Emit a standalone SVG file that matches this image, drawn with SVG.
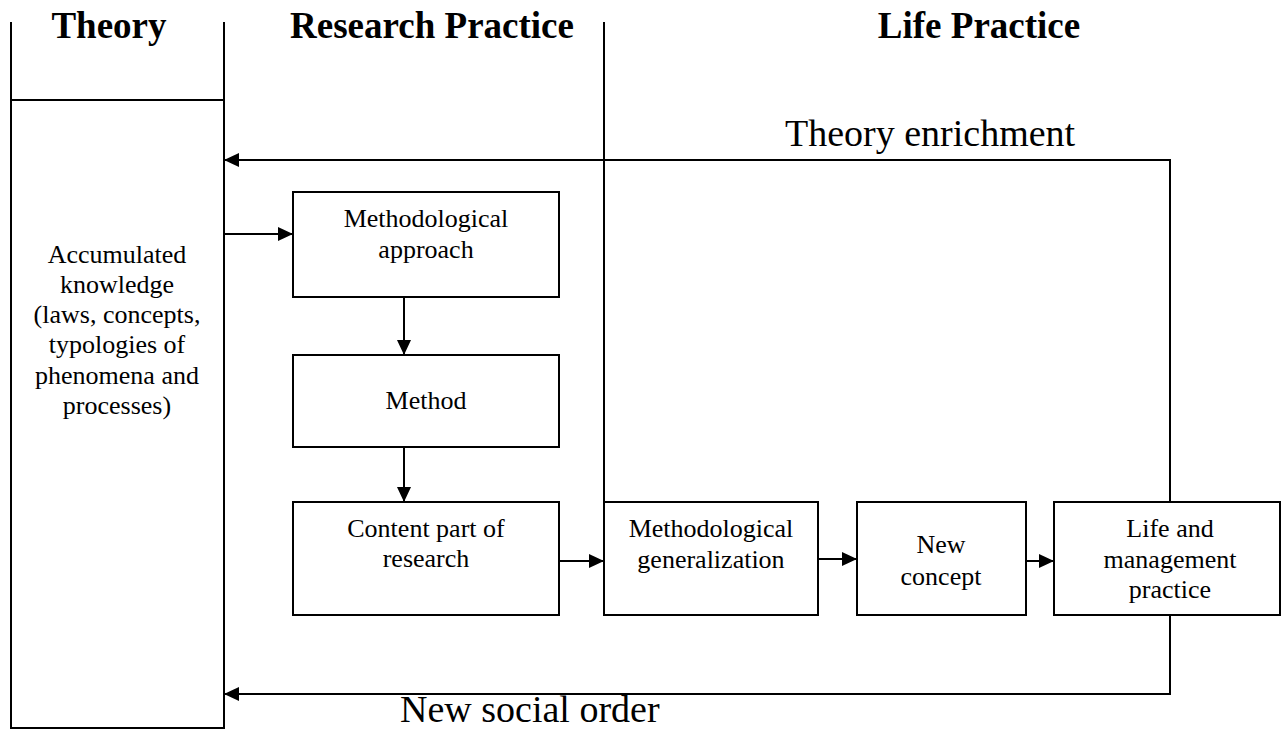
<svg xmlns="http://www.w3.org/2000/svg" width="1281" height="729" viewBox="0 0 1281 729">
<defs>
<style>
.ln{stroke:#000;stroke-width:2;fill:none}
.box{stroke:#000;stroke-width:2;fill:#fff}
.hd{font-family:"Liberation Serif","Times New Roman",serif;font-weight:bold;font-size:37px;fill:#000;text-anchor:middle}
.lb{font-family:"Liberation Serif","Times New Roman",serif;font-size:38px;fill:#000}
.t{font-family:"Liberation Serif","Times New Roman",serif;font-size:26px;fill:#000;text-anchor:middle}
</style>
<marker id="ah" viewBox="0 0 15 14" refX="15" refY="7" markerWidth="15" markerHeight="14" markerUnits="userSpaceOnUse" orient="auto">
<path d="M0,0 L15,7 L0,14 Z" fill="#000"/>
</marker>
</defs>
<rect width="1281" height="729" fill="#fff"/>
<g id="columns">
<line class="ln" x1="11" y1="22" x2="11" y2="728"/>
<line class="ln" x1="224" y1="22" x2="224" y2="728"/>
<line class="ln" x1="10" y1="728" x2="225" y2="728"/>
<line class="ln" x1="11" y1="100" x2="224" y2="100"/>
<line class="ln" x1="604" y1="22" x2="604" y2="502"/>
<text class="hd" x="109" y="38">Theory</text>
<text class="hd" x="432" y="38">Research Practice</text>
<text class="hd" x="979" y="38">Life Practice</text>
</g>
<g id="accumulated">
<text class="t" x="117" y="263">Accumulated</text>
<text class="t" x="117" y="293">knowledge</text>
<text class="t" x="117" y="323">(laws, concepts,</text>
<text class="t" x="117" y="353">typologies of</text>
<text class="t" x="117" y="384">phenomena and</text>
<text class="t" x="117" y="414">processes)</text>
</g>
<g id="connectors">
<path class="ln" d="M1170,502 V160 H224" marker-end="url(#ah)"/>
<path class="ln" d="M1170,615 V694 H224" marker-end="url(#ah)"/>
<path class="ln" d="M224,234 H293" marker-end="url(#ah)"/>
<path class="ln" d="M404,297 V355" marker-end="url(#ah)"/>
<path class="ln" d="M404,447 V502" marker-end="url(#ah)"/>
<path class="ln" d="M559,561 H604" marker-end="url(#ah)"/>
<path class="ln" d="M818,559 H857" marker-end="url(#ah)"/>
<path class="ln" d="M1026,561 H1054" marker-end="url(#ah)"/>
<text class="lb" x="785" y="146">Theory enrichment</text>
<text class="lb" x="400" y="722">New social order</text>
</g>
<g id="approach">
<rect class="box" x="293" y="192" width="266" height="105"/>
<text class="t" x="426" y="227">Methodological</text>
<text class="t" x="426" y="258">approach</text>
</g>
<g id="method">
<rect class="box" x="293" y="355" width="266" height="92"/>
<text class="t" x="426" y="409">Method</text>
</g>
<g id="content">
<rect class="box" x="293" y="502" width="266" height="113"/>
<text class="t" x="426" y="537">Content part of</text>
<text class="t" x="426" y="567">research</text>
</g>
<g id="generalization">
<rect class="box" x="604" y="502" width="214" height="113"/>
<text class="t" x="711" y="537">Methodological</text>
<text class="t" x="711" y="568">generalization</text>
</g>
<g id="concept">
<rect class="box" x="857" y="502" width="169" height="113"/>
<text class="t" x="941" y="553">New</text>
<text class="t" x="941" y="585">concept</text>
</g>
<g id="life">
<rect class="box" x="1054" y="502" width="226" height="113"/>
<text class="t" x="1170" y="537">Life and</text>
<text class="t" x="1170" y="568">management</text>
<text class="t" x="1170" y="598">practice</text>
</g>
</svg>
